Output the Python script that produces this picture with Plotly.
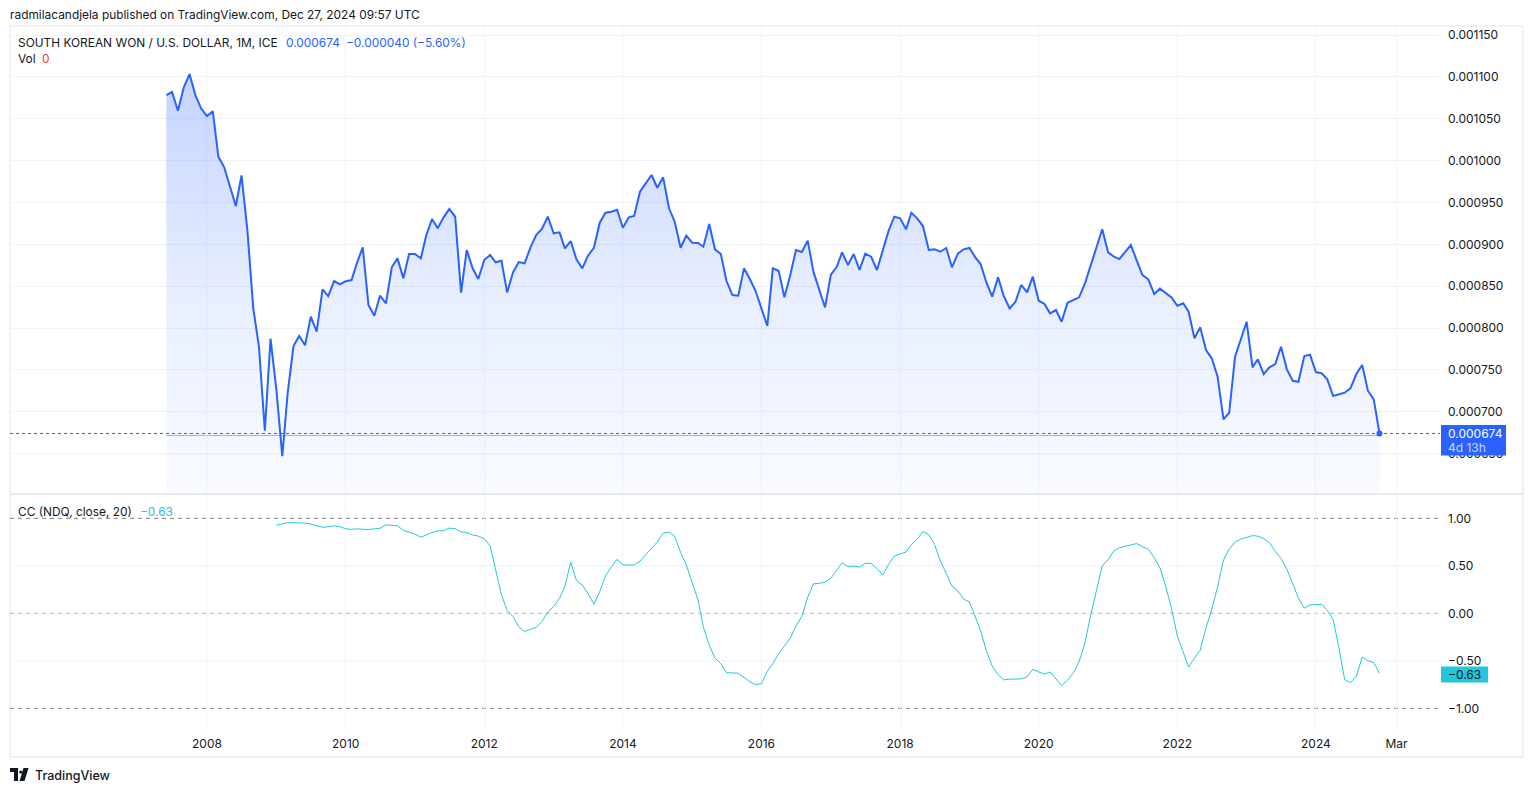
import pandas as pd
import plotly.graph_objects as go

# ---------------- data ----------------
first_month = "2007-06-01"          # first monthly bar (KRW/USD, ICE, 1M)
cc_offset = 19                      # CC(NDQ, close, 20) starts 19 bars later

price = [
    0.0010783, 0.0010819, 0.0010596, 0.0010875, 0.0011034, 0.0010783, 0.0010624, 0.0010532, 0.0010588, 0.0010046,
    0.0009920, 0.0009688, 0.0009457, 0.0009824, 0.0009170, 0.0008235, 0.0007776, 0.0006773, 0.0007872, 0.0007259,
    0.0006470, 0.0007220, 0.0007785, 0.0007904, 0.0007793, 0.0008135, 0.0007956, 0.0008462, 0.0008382, 0.0008561,
    0.0008522, 0.0008558, 0.0008573, 0.0008773, 0.0008964, 0.0008275, 0.0008147, 0.0008386, 0.0008295, 0.0008725,
    0.0008832, 0.0008593, 0.0008884, 0.0008884, 0.0008832, 0.0009103, 0.0009302, 0.0009191, 0.0009322, 0.0009421,
    0.0009330, 0.0008422, 0.0008932, 0.0008713, 0.0008585, 0.0008812, 0.0008872, 0.0008785, 0.0008804, 0.0008426,
    0.0008665, 0.0008788, 0.0008773, 0.0008964, 0.0009111, 0.0009186, 0.0009330, 0.0009131, 0.0009143, 0.0008952,
    0.0009039, 0.0008820, 0.0008713, 0.0008864, 0.0008959, 0.0009258, 0.0009377, 0.0009389, 0.0009413, 0.0009198,
    0.0009322, 0.0009338, 0.0009628, 0.0009728, 0.0009828, 0.0009676, 0.0009800, 0.0009430, 0.0009270, 0.0008959,
    0.0009103, 0.0009019, 0.0009015, 0.0008971, 0.0009242, 0.0008940, 0.0008884, 0.0008561, 0.0008394, 0.0008386,
    0.0008713, 0.0008585, 0.0008442,
    0.0008235, 0.0008024, 0.0008713, 0.0008681, 0.0008366, 0.0008633, 0.0008932, 0.0008908, 0.0009043, 0.0008673,
    0.0008454, 0.0008247, 0.0008637, 0.0008732, 0.0008904, 0.0008752, 0.0008884, 0.0008693, 0.0008888, 0.0008852,
    0.0008693, 0.0008920, 0.0009162, 0.0009330, 0.0009310, 0.0009179, 0.0009377, 0.0009310, 0.0009218, 0.0008932,
    0.0008940, 0.0008911, 0.0008956, 0.0008725, 0.0008888, 0.0008940, 0.0008956, 0.0008844, 0.0008764, 0.0008541,
    0.0008374, 0.0008605, 0.0008382, 0.0008235, 0.0008314, 0.0008514, 0.0008426, 0.0008613, 0.0008326, 0.0008287,
    0.0008175, 0.0008215, 0.0008075,
    0.0008302, 0.0008334, 0.0008366, 0.0008534, 0.0008752, 0.0008971, 0.0009179, 0.0008904, 0.0008852, 0.0008824,
    0.0008904, 0.0008991, 0.0008804, 0.0008633, 0.0008582, 0.0008406, 0.0008470, 0.0008422, 0.0008366, 0.0008266,
    0.0008295, 0.0008195, 0.0007877, 0.0008008, 0.0007737, 0.0007638, 0.0007418, 0.0006909, 0.0006988, 0.0007657,
    0.0007877, 0.0008075, 0.0007530, 0.0007626, 0.0007450, 0.0007530, 0.0007569, 0.0007776, 0.0007506, 0.0007370,
    0.0007358, 0.0007665, 0.0007681, 0.0007474, 0.0007459, 0.0007387, 0.0007187, 0.0007208, 0.0007227, 0.0007279,
    0.0007450, 0.0007558, 0.0007251, 0.0007148, 0.0006740,
]

cc = [
    0.927, 0.944, 0.953, 0.955, 0.954, 0.950, 0.939, 0.920, 0.905, 0.911,
    0.920, 0.913, 0.890, 0.884, 0.889, 0.885, 0.883, 0.889, 0.895, 0.930,
    0.927, 0.922, 0.873, 0.855, 0.835, 0.801, 0.825, 0.851, 0.868, 0.871,
    0.897, 0.890, 0.857, 0.850, 0.826, 0.813, 0.784, 0.710, 0.460, 0.195,
    0.030, -0.033, -0.142, -0.190, -0.169, -0.146, -0.085, 0.015, 0.070, 0.160,
    0.280, 0.540, 0.345, 0.297, 0.210, 0.095, 0.230, 0.390, 0.490, 0.568,
    0.510, 0.505, 0.508, 0.550, 0.615, 0.690, 0.750, 0.845, 0.854, 0.810,
    0.640, 0.510, 0.330, 0.140, -0.145, -0.335, -0.470, -0.530, -0.625, -0.627,
    -0.630, -0.675, -0.720, -0.752, -0.740, -0.610, -0.530, -0.425, -0.338, -0.260,
    -0.135, -0.030, 0.170, 0.310, 0.316, 0.328, 0.370, 0.460, 0.533, 0.491,
    0.498, 0.488, 0.526, 0.526, 0.470, 0.405, 0.516, 0.603, 0.620, 0.645,
    0.725, 0.780, 0.860, 0.830, 0.725, 0.550, 0.420, 0.285, 0.237, 0.150,
    0.120, -0.045, -0.180, -0.400, -0.554, -0.645, -0.700, -0.693, -0.690, -0.690,
    -0.670, -0.589, -0.617, -0.640, -0.617, -0.686, -0.760, -0.705, -0.630, -0.510,
    -0.310, -0.020, 0.260, 0.500, 0.565, 0.660, 0.690, 0.705, 0.720, 0.735,
    0.700, 0.675, 0.585, 0.480, 0.280, 0.050, -0.240, -0.400, -0.565, -0.470,
    -0.390, -0.150, 0.040, 0.280, 0.560, 0.675, 0.750, 0.780, 0.800, 0.818,
    0.812, 0.787, 0.745, 0.650, 0.578, 0.465, 0.310, 0.160, 0.055, 0.090,
    0.091, 0.095, 0.030, -0.065, -0.360, -0.700, -0.728, -0.665, -0.460, -0.500,
    -0.518, -0.630,
]

time_tick_dates = ["2008-01-01", "2010-01-01", "2012-01-01", "2014-01-01", "2016-01-01",
                   "2018-01-01", "2020-01-01", "2022-01-01", "2024-01-01", "2025-03-01"]
time_tick_labels = ["2008", "2010", "2012", "2014", "2016", "2018", "2020", "2022", "2024", "Mar"]

price_ticks = [0.00065, 0.00070, 0.00075, 0.00080, 0.00085, 0.00090, 0.00095, 0.00100, 0.00105, 0.00110, 0.00115]
price_tick_labels = ["0.000650", "0.000700", "0.000750", "0.000800", "0.000850", "0.000900",
                     "0.000950", "0.001000", "0.001050", "0.001100", "0.001150"]
cc_ticks = [1.0, 0.5, 0.0, -0.5, -1.0]
cc_tick_labels = ["1.00", "0.50", "0.00", "\u22120.50", "\u22121.00"]

header_text = "radmilacandjela published on TradingView.com, Dec 27, 2024 09:57 UTC"
symbol_text = "SOUTH KOREAN WON / U.S. DOLLAR, 1M, ICE"
last_text = "0.000674"
change_text = "\u22120.000040 (\u22125.60%)"
cc_title = "CC (NDQ, close, 20)"
cc_last_text = "\u22120.63"
countdown_text = "4d 13h"

# ---------------- layout helpers ----------------
W, H = 1534, 792
ML, MR, MT, MB = 10, 94, 27, 62
PW = W - ML - MR
PH = H - MT - MB


def px(x):
    return (x - ML) / PW


def py(y):
    return (H - MB - y) / PH


SPLIT = py(494)
FONT = "Inter, Roboto, 'DejaVu Sans', sans-serif"
TXT = "#131722"
BLUE = "#2962FF"
CYAN = "#22C7DE"
GRID = "#F0F3FA"
BORDER = "#E0E3EB"

months = pd.date_range(first_month, periods=len(price), freq="MS")
cc_months = months[cc_offset:cc_offset + len(cc)]

fig = go.Figure()

fig.add_trace(go.Scatter(
    x=months, y=price, mode="lines",
    line=dict(color=BLUE, width=2),
    fill="tozeroy",
    fillgradient=dict(
        type="vertical",
        colorscale=[[0, "rgba(41,98,255,0.03)"], [0.45, "rgba(41,98,255,0.10)"], [1, "rgba(41,98,255,0.27)"]],
        start=0.00060, stop=0.00110,
    ),
    xaxis="x", yaxis="y", hoverinfo="skip", showlegend=False,
))
fig.add_trace(go.Scatter(
    x=[months[-1]], y=[price[-1]], mode="markers",
    marker=dict(size=6, color=BLUE),
    xaxis="x", yaxis="y", hoverinfo="skip", showlegend=False,
))
fig.add_trace(go.Scatter(
    x=cc_months, y=cc, mode="lines",
    line=dict(color=CYAN, width=1),
    xaxis="x2", yaxis="y2", hoverinfo="skip", showlegend=False,
))

x_range = ["2005-02-27", "2025-10-16"]

fig.update_layout(
    width=W, height=H,
    margin=dict(l=ML, r=MR, t=MT, b=MB, pad=0),
    paper_bgcolor="white", plot_bgcolor="white",
    font=dict(family=FONT, size=12, color=TXT),
    showlegend=False,
    xaxis=dict(
        domain=[0, 1], anchor="y", range=x_range, type="date", matches="x2",
        tickvals=time_tick_dates, showticklabels=False, showgrid=True, gridcolor=GRID, gridwidth=1,
        zeroline=False, showline=False, ticks="",
    ),
    xaxis2=dict(
        domain=[0, 1], anchor="y2", range=x_range, type="date",
        tickvals=time_tick_dates, ticktext=time_tick_labels, showgrid=True, gridcolor=GRID, gridwidth=1,
        zeroline=False, showline=False, ticks="", ticklabelstandoff=5,
        tickfont=dict(family=FONT, size=12, color=TXT),
    ),
    yaxis=dict(
        domain=[SPLIT, 1], anchor="x", side="right",
        range=[0.0006017, 0.0011596],
        tickvals=price_ticks, ticktext=price_tick_labels,
        showgrid=True, gridcolor=GRID, gridwidth=1, zeroline=False, showline=False, ticks="",
        ticklabelstandoff=7, tickfont=dict(family=FONT, size=12, color=TXT),
    ),
    yaxis2=dict(
        domain=[0, SPLIT], anchor="x2", side="right",
        range=[-1.228, 1.256],
        tickvals=cc_ticks, ticktext=cc_tick_labels,
        showgrid=False, zeroline=False, showline=False, ticks="",
        ticklabelstandoff=7, tickfont=dict(family=FONT, size=12, color=TXT),
    ),
)

shapes = []
# frame and pane separator
shapes.append(dict(type="rect", xref="paper", yref="paper", x0=px(10), x1=px(1523), y0=py(757), y1=py(26),
                   line=dict(color=BORDER, width=1), fillcolor="rgba(0,0,0,0)", layer="below"))
shapes.append(dict(type="line", xref="paper", yref="paper", x0=px(10), x1=px(1523), y0=SPLIT, y1=SPLIT,
                   line=dict(color=BORDER, width=1.5), layer="above"))
# CC pane grid and levels
for v in (0.5, -0.5):
    shapes.append(dict(type="line", xref="paper", yref="y2", x0=0, x1=1, y0=v, y1=v,
                       line=dict(color=GRID, width=1), layer="below"))
for v, col in ((1.0, "rgba(120,123,134,1)"), (0.0, "rgba(120,123,134,0.55)"), (-1.0, "rgba(120,123,134,1)")):
    shapes.append(dict(type="line", xref="paper", yref="y2", x0=0, x1=1, y0=v, y1=v,
                       line=dict(color=col, width=1, dash="4px,4px"), layer="below"))
# last-price lines
shapes.append(dict(type="line", xref="x", yref="y", x0=months[0], x1=months[-1],
                   ysizemode="pixel", yanchor=price[-1], y0=-2, y1=-2,
                   line=dict(color="rgba(120,205,215,0.9)", width=1), layer="below"))
shapes.append(dict(type="line", xref="x", yref="y", x0=months[0], x1=months[-1],
                   ysizemode="pixel", yanchor=price[-1], y0=-2, y1=-2,
                   line=dict(color="rgba(242,150,155,0.9)", width=1, dash="4px,4px"), layer="below"))
shapes.append(dict(type="line", xref="paper", yref="y", x0=0, x1=1, y0=price[-1], y1=price[-1],
                   line=dict(color=BLUE, width=1, dash="dot"), layer="above"))
# axis value boxes
shapes.append(dict(type="rect", xref="paper", yref="paper", x0=px(1441), x1=px(1506), y0=py(455.5), y1=py(425),
                   fillcolor=BLUE, line=dict(width=0), layer="above"))
shapes.append(dict(type="rect", xref="paper", yref="paper", x0=px(1441), x1=px(1488), y0=py(682.5), y1=py(666.5),
                   fillcolor=CYAN, line=dict(width=0), layer="above"))
# TradingView logo glyph
logo_t = f"M {px(10)},{py(768)} L {px(18)},{py(768)} L {px(18)},{py(781)} L {px(14)},{py(781)} L {px(14)},{py(772)} L {px(10)},{py(772)} Z"
logo_v = f"M {px(23.5)},{py(768)} L {px(28.5)},{py(768)} L {px(24.5)},{py(781)} L {px(19.5)},{py(781)} Z"
shapes.append(dict(type="path", xref="paper", yref="paper", path=logo_t, fillcolor=TXT, line=dict(width=0)))
shapes.append(dict(type="path", xref="paper", yref="paper", path=logo_v, fillcolor=TXT, line=dict(width=0)))
shapes.append(dict(type="circle", xref="paper", yref="paper", x0=px(19.2), x1=px(22.4), y0=py(773.6), y1=py(770.4),
                   fillcolor=TXT, line=dict(width=0)))
fig.update_layout(shapes=shapes)


def label(text, x, y, color=TXT, size=12, weight=None):
    f = dict(family=FONT, size=size, color=color)
    if weight:
        f["weight"] = weight
    return dict(text=text, xref="paper", yref="paper", x=px(x - 2), y=py(y), xanchor="left", yanchor="middle",
                showarrow=False, font=f)


annotations = [
    label(header_text, 10, 15, size=11.9),
    label(symbol_text, 18, 43, size=11.9),
    label(last_text, 286, 43, color=BLUE, size=11.9),
    label(change_text, 346, 43, color=BLUE, size=11.9),
    label("Vol", 18, 59, size=11.9),
    label("0", 42, 59, color="#F23645", size=11.9),
    label(cc_title, 18, 511, size=11.9),
    label(cc_last_text, 140, 511, color=CYAN, size=11.9),
    label(last_text, 1448, 433.5, color="white", size=12),
    label(countdown_text, 1448, 447.5, color="rgba(255,255,255,0.75)", size=12),
    label(cc_last_text, 1448, 674.5, color=TXT, size=12),
    label("TradingView", 35, 775, size=12.5, weight=500),
]
fig.update_layout(annotations=annotations)

fig.write_html("out.html", config={"displayModeBar": False})
